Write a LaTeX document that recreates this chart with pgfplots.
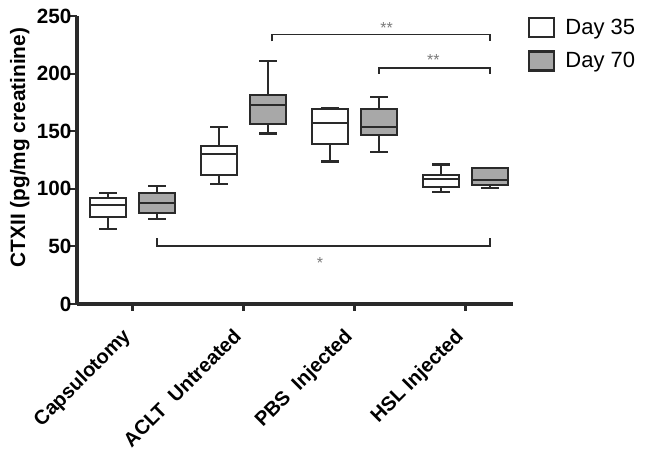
\documentclass[border=0pt]{standalone}
\usepackage{fontspec}
\setmainfont{Liberation Sans}
\usepackage{pgfplots}
\pgfplotsset{compat=1.18}
\definecolor{dk}{HTML}{2A2A2A}
\definecolor{boxgray}{HTML}{A8A8A8}
\definecolor{stargray}{HTML}{7A7A7A}
\pgfplotsset{
  sqleg/.style={legend image code/.code={\draw[##1] (0pt,-7.1pt) rectangle (18.5pt,7.1pt); \path (24.5pt,0pt);}},
  bx/.style={draw=dk, line width=1.7pt, line join=miter, forget plot},
}
\begin{document}
\begin{tikzpicture}
\begin{axis}[
  scale only axis,
  width=327pt, height=216pt,
  xmin=0.5, xmax=4.428, ymin=0, ymax=250,
  axis lines=left,
  axis line style={dk, line width=3pt, -},
  xtick={1,2,3,4},
  xticklabels={Capsulotomy, ACLT\ \ Untreated, PBS\ \ Injected, HSL Injected},
  ytick={0,50,100,150,200,250},
  tick align=outside,
  major tick length=5pt,
  tick style={dk, line width=1.6pt},
  ticklabel style={font=\bfseries\fontsize{15.5}{17}\selectfont},
  /pgf/number format/assume math mode=true,
  xticklabel style={rotate=45, anchor=north east, inner sep=2pt, yshift=-0.5pt, xshift=-12.75pt, font=\bfseries\fontsize{15}{17}\selectfont},
  yticklabel style={inner sep=1pt, xshift=2pt},
  ylabel={CTXII (pg/mg creatinine)},
  ylabel style={at={(axis description cs:-0.131,0.543)}, anchor=center, font=\bfseries\fontsize{15.6}{17}\selectfont},
  legend style={at={(1,1)}, anchor=north west, xshift=8pt, yshift=2pt, draw=none, fill=none,
    font=\fontsize{16.5}{18}\selectfont, row sep=8pt},
  legend cell align=left,
  clip=false,
]
% ---- Capsulotomy Day 35 (0.78)
\addplot[bx] coordinates {(0.70,65.4) (0.86,65.4) (0.78,65.4) (0.78,96.1) (0.70,96.1) (0.86,96.1)};
\addplot[bx, fill=white] coordinates {(0.62,75.8) (0.94,75.8) (0.94,92.3) (0.62,92.3)} --cycle;
\addplot[bx] coordinates {(0.62,85.9) (0.94,85.9)};
% ---- Capsulotomy Day 70 (1.22)
\addplot[bx] coordinates {(1.14,73.5) (1.30,73.5) (1.22,73.5) (1.22,102.4) (1.14,102.4) (1.30,102.4)};
\addplot[bx, fill=boxgray] coordinates {(1.06,78.7) (1.38,78.7) (1.38,96.1) (1.06,96.1)} --cycle;
\addplot[bx] coordinates {(1.06,87.4) (1.38,87.4)};
% ---- ACLT Day 35 (1.78)
\addplot[bx] coordinates {(1.70,104.2) (1.86,104.2) (1.78,104.2) (1.78,153.9) (1.70,153.9) (1.86,153.9)};
\addplot[bx, fill=white] coordinates {(1.62,112.0) (1.94,112.0) (1.94,137.4) (1.62,137.4)} --cycle;
\addplot[bx] coordinates {(1.62,129.9) (1.94,129.9)};
% ---- ACLT Day 70 (2.22)
\addplot[bx] coordinates {(2.14,148.1) (2.30,148.1) (2.22,148.1) (2.22,211.2) (2.14,211.2) (2.30,211.2)};
\addplot[bx, fill=boxgray] coordinates {(2.06,156.0) (2.38,156.0) (2.38,181.4) (2.06,181.4)} --cycle;
\addplot[bx] coordinates {(2.06,172.5) (2.38,172.5)};
% ---- PBS Day 35 (2.78)
\addplot[bx] coordinates {(2.70,123.8) (2.86,123.8) (2.78,123.8) (2.78,170.4) (2.70,170.4) (2.86,170.4)};
\addplot[bx, fill=white] coordinates {(2.62,139.2) (2.94,139.2) (2.94,169.3) (2.62,169.3)} --cycle;
\addplot[bx] coordinates {(2.62,157.1) (2.94,157.1)};
% ---- PBS Day 70 (3.22)
\addplot[bx] coordinates {(3.14,131.7) (3.30,131.7) (3.22,131.7) (3.22,180.0) (3.14,180.0) (3.30,180.0)};
\addplot[bx, fill=boxgray] coordinates {(3.06,146.4) (3.38,146.4) (3.38,169.3) (3.06,169.3)} --cycle;
\addplot[bx] coordinates {(3.06,153.4) (3.38,153.4)};
% ---- HSL Day 35 (3.78)
\addplot[bx] coordinates {(3.70,97.2) (3.86,97.2) (3.78,97.2) (3.78,121.2) (3.70,121.2) (3.86,121.2)};
\addplot[bx, fill=white] coordinates {(3.62,101.3) (3.94,101.3) (3.94,112.3) (3.62,112.3)} --cycle;
\addplot[bx] coordinates {(3.62,108.8) (3.94,108.8)};
% ---- HSL Day 70 (4.22)
\addplot[bx] coordinates {(4.14,101.0) (4.30,101.0) (4.22,101.0) (4.22,118.3) (4.14,118.3) (4.30,118.3)};
\addplot[bx, fill=boxgray] coordinates {(4.06,103.3) (4.38,103.3) (4.38,117.8) (4.06,117.8)} --cycle;
\addplot[bx] coordinates {(4.06,107.6) (4.38,107.6)};
% significance brackets
\addplot[dk, line width=1.4pt, forget plot] coordinates {(2.26,228) (2.26,234) (4.22,234) (4.22,228)};
\addplot[dk, line width=1.4pt, forget plot] coordinates {(3.22,200) (3.22,205) (4.22,205) (4.22,200)};
\addplot[dk, line width=1.4pt, forget plot] coordinates {(1.22,57) (1.22,50.3) (4.22,50.3) (4.22,57)};
\node[text=stargray, font=\fontsize{12}{13}\selectfont] at (axis cs:3.29,240) {**};
\node[text=stargray, font=\fontsize{12}{13}\selectfont] at (axis cs:3.71,211.5) {**};
\node[text=stargray, font=\fontsize{12}{13}\selectfont] at (axis cs:2.69,35.5) {*};
% legend
\addlegendimage{sqleg, draw=dk, fill=white, line width=1.6pt}
\addlegendentry{Day 35}
\addlegendimage{sqleg, draw=dk, fill=boxgray, line width=1.6pt}
\addlegendentry{Day 70}
\end{axis}
\pgfresetboundingbox
\path (-57.75pt,-112.5pt) rectangle (426pt,228pt);
\end{tikzpicture}
\end{document}
